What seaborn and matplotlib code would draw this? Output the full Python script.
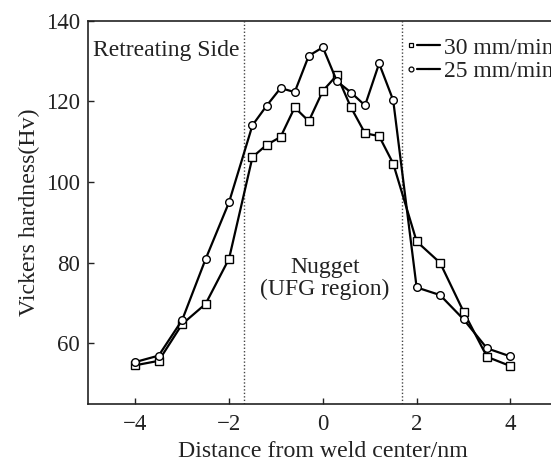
import matplotlib
matplotlib.use('Agg')
import matplotlib.pyplot as plt
import seaborn as sns
import pandas as pd
from matplotlib.lines import Line2D
from matplotlib.legend_handler import HandlerTuple

# ---- data ----
distance = [-4, -3.5, -3, -2.5, -2, -1.5, -1.2, -0.9, -0.6, -0.3, 0,
            0.3, 0.6, 0.9, 1.2, 1.5, 2, 2.5, 3, 3.5, 4]
hv_30 = [54.6, 55.7, 64.8, 69.8, 81.0, 106.2, 109.2, 111.2, 118.5, 115.1, 122.6,
         126.5, 118.5, 112.1, 111.4, 104.6, 85.3, 80.0, 67.9, 56.7, 54.4]
hv_25 = [55.4, 57.0, 65.8, 80.9, 95.0, 114.1, 118.9, 123.3, 122.3, 131.3, 133.4,
         125.0, 122.2, 119.0, 129.4, 120.3, 73.9, 72.0, 66.0, 58.8, 56.8]
series_labels = ['30 mm/min', '25 mm/min']
boundaries = [-1.68, 1.68]
x_ticks = [-4, -2, 0, 2, 4]
y_ticks = [60, 80, 100, 120, 140]

df = pd.DataFrame({'distance': distance, 'hv30': hv_30, 'hv25': hv_25})

sns.set_theme(style='ticks')
plt.rcParams['font.family'] = ['Liberation Serif', 'DejaVu Serif']

fig = plt.figure(figsize=(5.51, 4.61), dpi=100)
ax = fig.add_axes([0.1603, 0.1236, 0.8512, 0.8315])

sns.lineplot(data=df, x='distance', y='hv30', ax=ax, color='black', lw=1.6,
             marker='s', markersize=5.5, markerfacecolor='white',
             markeredgecolor='black', markeredgewidth=1.0, sort=False)
sns.lineplot(data=df, x='distance', y='hv25', ax=ax, color='black', lw=1.6,
             marker='o', markersize=5.5, markerfacecolor='white',
             markeredgecolor='black', markeredgewidth=1.0, sort=False)

for b in boundaries:
    ax.axvline(b, color='#444444', lw=1.0, ls=(0, (1, 1.5)), zorder=1)

ax.set_xlim(-5, 5)
ax.set_ylim(45, 140)
ax.set_xticks(x_ticks)
ax.set_yticks(y_ticks)
ax.tick_params(direction='in', length=4, width=1.0, labelsize=16.5,
               colors='#222222')
ax.tick_params(axis='x', pad=7.5)
ax.tick_params(axis='y', pad=6)
ax.spines['right'].set_visible(False)
for s in ax.spines.values():
    s.set_linewidth(1.2)
    s.set_color('#222222')

ax.set_xlabel('Distance from weld center/nm', fontsize=17.2, labelpad=4, color='#222222')
ax.set_ylabel('Vickers hardness(Hv)', fontsize=17.2, labelpad=4, color='#222222')

ax.text(-4.89, 132.5, 'Retreating Side', fontsize=17, ha='left', va='center',
        color='#222222')
ax.text(0.05, 76.1, 'Nugget\n(UFG region)', fontsize=17, ha='center',
        va='center', linespacing=1.1, color='#222222')

# legend: marker to the left of a short line
def handle(marker):
    m = Line2D([], [], ls='none', marker=marker, ms=3.5, mfc='white',
               mec='black', mew=0.9)
    l = Line2D([], [], color='black', lw=1.6)
    return (m, l, l)

leg = ax.legend([handle('s'), handle('o')], series_labels,
                handler_map={tuple: HandlerTuple(ndivide=None, pad=0)},
                loc='upper left', bbox_to_anchor=(405 / 551, 1 - 37 / 461),
                bbox_transform=fig.transFigure, frameon=False, fontsize=17,
                handlelength=1.5, handletextpad=0.15, labelspacing=0.1,
                borderpad=0, borderaxespad=0)
for t in leg.get_texts():
    t.set_color('#222222')

fig.savefig('out.png', dpi=100)
